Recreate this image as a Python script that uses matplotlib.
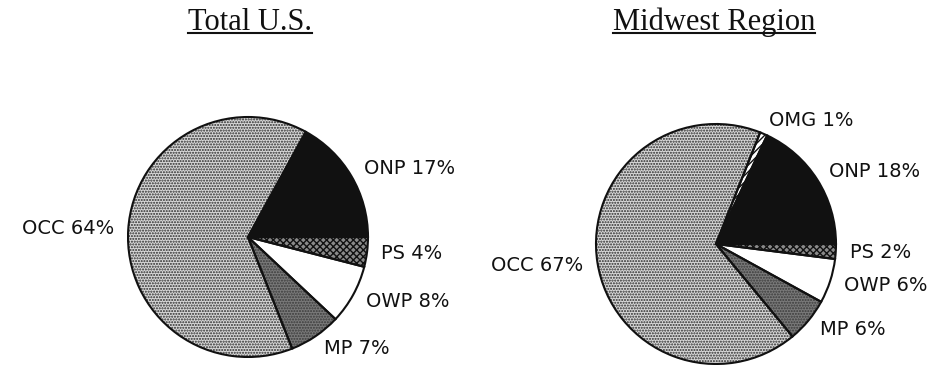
import numpy as np
import matplotlib
matplotlib.use("Agg")
import matplotlib.pyplot as plt
from matplotlib.lines import Line2D

# Data (percent shares, counter-clockwise from 3 o'clock)
us_labels = ["ONP", "OCC", "MP", "OWP", "PS"]
us_values = [17, 64, 7, 8, 4]

mw_labels = ["ONP", "OMG", "OCC", "MP", "OWP", "PS"]
mw_values = [18, 1, 67, 6, 6, 2]

titles = ["Total U.S.", "Midwest Region"]

# fill style per category: face, hatch, hatch colour
styles = {
    "ONP": ("#111111", None, "#111111"),
    "OCC": ("#d8d8d8", "......", "#2a2a2a"),
    "MP": ("#7a7a7a", "......", "#3a3a3a"),
    "OWP": ("#ffffff", None, "#ffffff"),
    "PS": ("#8a8a8a", "xxxxx", "#111111"),
    "OMG": ("#ffffff", "/////", "#111111"),
}

W, H = 942, 365
fig = plt.figure(figsize=(W / 100, H / 100), dpi=100)
fig.patch.set_facecolor("white")
plt.rcParams["hatch.linewidth"] = 1.0

label_font = dict(family="DejaVu Sans", fontsize=14, color="#111111")


def draw_pie(ax, labels, values):
    faces = [styles[l][0] for l in labels]
    # first pass: fills and hatches (hatch colour comes from edgecolor)
    wedges, _ = ax.pie(values, startangle=0, counterclock=True, colors=faces,
                       wedgeprops=dict(linewidth=0))
    for w, l in zip(wedges, labels):
        face, hatch, hcol = styles[l]
        w.set_edgecolor(hcol)
        if hatch:
            w.set_hatch(hatch)
    # second pass: black outlines and labels
    texts = [f"{l} {v}%" for l, v in zip(labels, values)]
    ax.pie(values, startangle=0, counterclock=True, labels=texts,
           labeldistance=1.12, textprops=label_font,
           wedgeprops=dict(facecolor="none", edgecolor="#111111",
                           linewidth=1.5))
    ax.set_aspect("equal")


# pie axes: centre (px) and radius 120 px, pie limits are +-1.25
r = 120
centres = [(248, 237), (716, 244)]
datasets = [(us_labels, us_values), (mw_labels, mw_values)]
for (cx, cy), (labs, vals) in zip(centres, datasets):
    half = 1.25 * r
    ax = fig.add_axes([(cx - half) / W, (H - cy - half) / H,
                       2 * half / W, 2 * half / H])
    draw_pie(ax, labs, vals)

# underlined serif titles, baseline 30 px from the top
title_x = [250, 714]
title_texts = []
for tx, t in zip(title_x, titles):
    title_texts.append(fig.text(tx / W, 1 - 30 / H, t, ha="center",
                                va="baseline", family="Liberation Serif",
                                fontsize=22, color="#111111"))

fig.canvas.draw()
renderer = fig.canvas.get_renderer()
for t in title_texts:
    bb = t.get_window_extent(renderer)
    y = 1 - 33 / H
    fig.add_artist(Line2D([bb.x0 / W, bb.x1 / W], [y, y],
                          color="#111111", linewidth=1.5,
                          transform=fig.transFigure))

fig.savefig("out.png", dpi=100, facecolor="white")
